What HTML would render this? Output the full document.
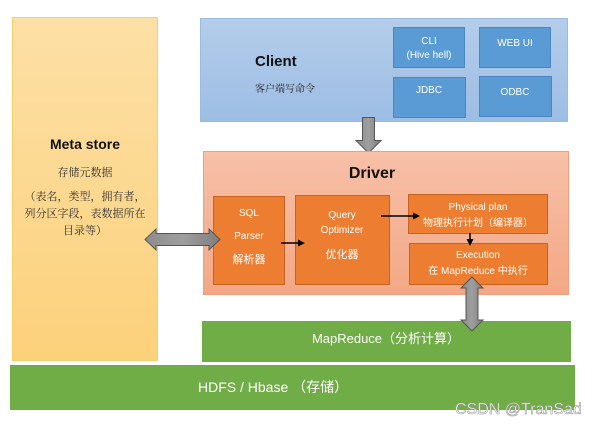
<!DOCTYPE html>
<html><head><meta charset="utf-8"><style>
html,body{margin:0;padding:0;background:#fff;width:616px;height:426px;overflow:hidden}
</style></head><body>
<svg width="616" height="426" viewBox="0 0 616 426" xmlns="http://www.w3.org/2000/svg" font-family="Liberation Sans, Noto Sans CJK SC, sans-serif">
<defs>
<linearGradient id="gb" x1="0" y1="0" x2="0" y2="1"><stop offset="0" stop-color="#b4cdea"/><stop offset="1" stop-color="#9dbde4"/></linearGradient>
<linearGradient id="go" x1="0" y1="0" x2="0" y2="1"><stop offset="0" stop-color="#f7c0a8"/><stop offset="1" stop-color="#f3a886"/></linearGradient>
<linearGradient id="gy" x1="0" y1="0" x2="0" y2="1"><stop offset="0" stop-color="#fde0a6"/><stop offset="1" stop-color="#fcd17b"/></linearGradient>
<linearGradient id="gg" x1="0" y1="0" x2="1" y2="0"><stop offset="0" stop-color="#8c8c8c"/><stop offset="0.5" stop-color="#9e9e9e"/><stop offset="1" stop-color="#7e7e7e"/></linearGradient>
</defs>
<!-- Meta store -->
<rect x="12.5" y="17.5" width="145" height="343" fill="url(#gy)" stroke="#f5cf6a"/>
<text x="85" y="149" text-anchor="middle" font-size="14" font-weight="bold" fill="#111">Meta store</text>
<g font-family="Noto Serif CJK SC, serif" font-size="11" fill="#333" text-anchor="middle">
<text x="85" y="176">存储元数据</text>
<text x="85" y="200">（表名，类型，拥有者，</text>
<text x="85" y="217">列分区字段，表数据所在</text>
<text x="85" y="234">目录等）</text>
</g>
<!-- Client -->
<rect x="200.5" y="18.5" width="367" height="103" fill="url(#gb)" stroke="#9bbbe0"/>
<text x="255" y="66" font-size="15" font-weight="bold" fill="#111">Client</text>
<text x="255" y="92" font-family="Noto Serif CJK SC, serif" font-size="10" fill="#222">客户端写命令</text>
<g fill="#5b9bd5" stroke="#4a86c0">
<rect x="393.5" y="27.5" width="71" height="40"/>
<rect x="479.5" y="27.5" width="71" height="40"/>
<rect x="393.5" y="77.5" width="72" height="40"/>
<rect x="479.5" y="76.5" width="72" height="40"/>
</g>
<g fill="#fff" font-size="10" text-anchor="middle">
<text x="429" y="44">CLI</text>
<text x="429" y="58">(Hive hell)</text>
<text x="515" y="46">WEB UI</text>
<text x="429" y="93">JDBC</text>
<text x="515" y="95">ODBC</text>
</g>
<!-- down arrow -->
<path d="M362.5,117.5 H374.5 V140.5 H381 L368.5,153 L356,140.5 H362.5 Z" fill="url(#gg)" stroke="#555"/>
<!-- Driver -->
<rect x="203.5" y="151.5" width="365" height="143" fill="url(#go)" stroke="#f09d7a"/>
<text x="372" y="178" text-anchor="middle" font-size="16" font-weight="bold" fill="#111">Driver</text>
<g fill="#ed7d31" stroke="#c8621f">
<rect x="213.5" y="196.5" width="71" height="88"/>
<rect x="295.5" y="195.5" width="94" height="89"/>
<rect x="408.5" y="194.5" width="139" height="39"/>
<rect x="409.5" y="243.5" width="138" height="41"/>
</g>
<g fill="#fff" font-size="10" text-anchor="middle">
<text x="249" y="216">SQL</text>
<text x="249" y="239">Parser</text>
<text x="249" y="263" font-size="11">解析器</text>
<text x="342" y="218">Query</text>
<text x="342" y="233">Optimizer</text>
<text x="342" y="258" font-size="11">优化器</text>
<text x="478" y="210">Physical plan</text>
<text x="478" y="226">物理执行计划（编译器）</text>
<text x="478" y="258">Execution</text>
<text x="478" y="274">在 MapReduce 中执行</text>
</g>
<g stroke="#000" stroke-width="1.5" fill="#000">
<line x1="281" y1="243" x2="299" y2="243"/><path d="M305,243 L298,239.5 L298,246.5 Z" stroke="none"/>
<line x1="381" y1="216" x2="414" y2="216"/><path d="M420,216 L413,212.5 L413,219.5 Z" stroke="none"/>
<line x1="470" y1="233" x2="470" y2="240"/><path d="M470,246 L466.5,239 L473.5,239 Z" stroke="none"/>
</g>
<!-- horizontal double arrow -->
<path d="M145,239.5 L156,229 V233.5 H209 V229 L220,239.5 L209,250 V245.5 H156 V250 Z" fill="url(#gg)" stroke="#555"/>
<!-- MapReduce -->
<rect x="202" y="321" width="369" height="41" fill="#70ad47"/>
<text x="386" y="343" text-anchor="middle" font-size="13" fill="#fff">MapReduce（分析计算）</text>
<!-- HDFS -->
<rect x="10" y="365" width="565" height="45" fill="#70ad47"/>
<text x="198" y="392" font-size="14" fill="#fff">HDFS / Hbase （存储）</text>
<!-- vertical double arrow -->
<path d="M472,277 L483,288 H478 V320 H483 L472,331 L461,320 H466 V288 H461 Z" fill="url(#gg)" stroke="#555"/>
<!-- watermark -->
<text x="455" y="414" font-size="16" fill="#fff" stroke="#999" stroke-width="0.6">CSDN @TranSad</text>
</svg>
</body></html>
